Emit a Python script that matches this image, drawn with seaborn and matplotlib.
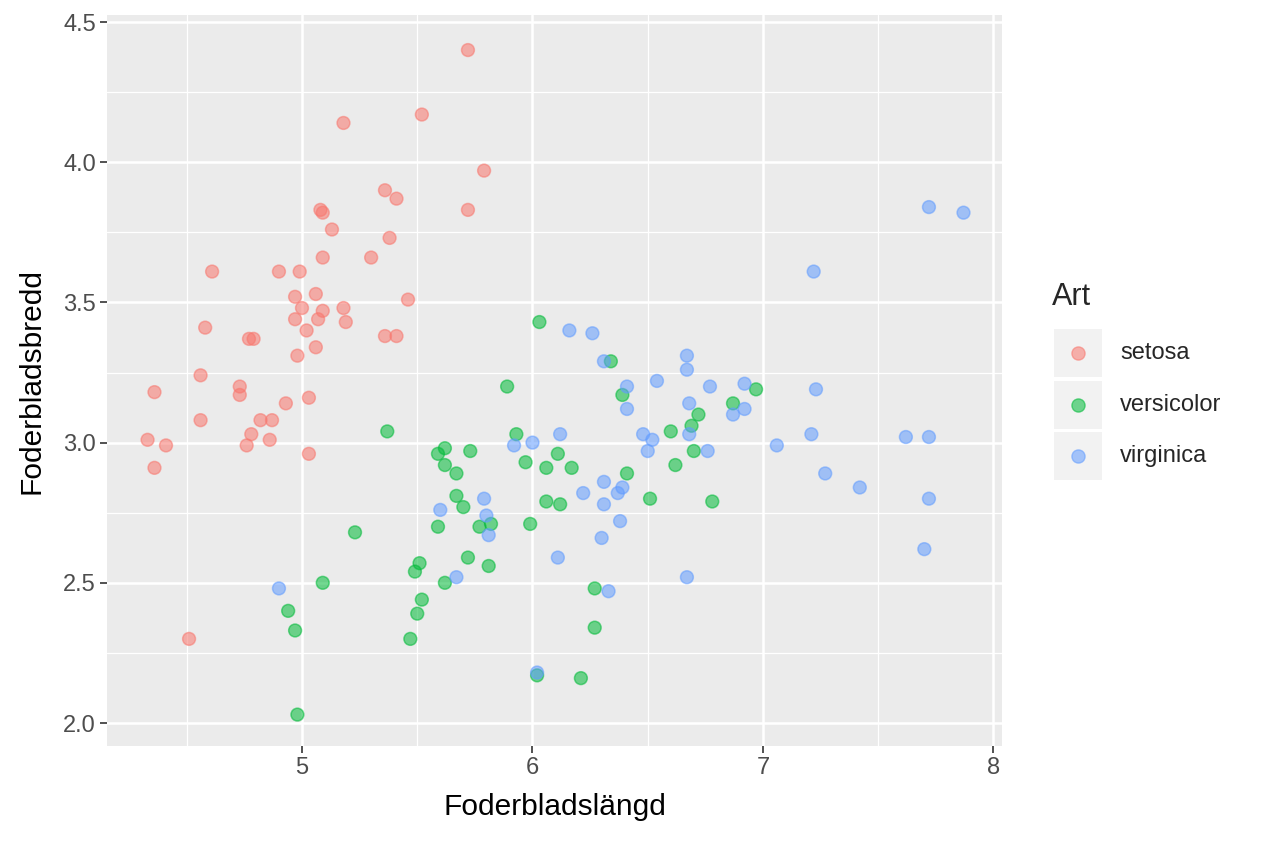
import pandas as pd
import matplotlib
matplotlib.use("Agg")
import matplotlib.pyplot as plt
from matplotlib.patches import Rectangle
from matplotlib.lines import Line2D
from matplotlib.ticker import MultipleLocator
import seaborn as sns

# arter och färger (ggplot-standard)
species = ["setosa", "versicolor", "virginica"]
colors = ["#F8766D", "#00BA38", "#619CFF"]

# avlästa (jittrade) värden
setosa_len = [5.72, 5.52, 5.18, 5.79, 5.36, 5.41, 5.08, 5.09, 5.72, 5.13,
              5.38, 5.09, 5.30, 4.61, 4.90, 4.99, 5.06, 5.46, 4.97, 5.00,
              5.18, 5.09, 4.97, 5.07, 5.19, 4.58, 5.02, 4.77, 4.79, 5.36,
              5.41, 5.06, 4.98, 4.56, 4.36, 4.73, 4.73, 4.93, 5.03, 4.56,
              4.82, 4.87, 4.78, 4.33, 4.86, 4.41, 4.76, 4.36, 5.03, 4.51]
setosa_wid = [4.40, 4.17, 4.14, 3.97, 3.90, 3.87, 3.83, 3.82, 3.83, 3.76,
              3.73, 3.66, 3.66, 3.61, 3.61, 3.61, 3.53, 3.51, 3.52, 3.48,
              3.48, 3.47, 3.44, 3.44, 3.43, 3.41, 3.40, 3.37, 3.37, 3.38,
              3.38, 3.34, 3.31, 3.24, 3.18, 3.20, 3.17, 3.14, 3.16, 3.08,
              3.08, 3.08, 3.03, 3.01, 3.01, 2.99, 2.99, 2.91, 2.96, 2.30]

versicolor_len = [6.03, 5.89, 6.34, 6.39, 6.87, 6.97, 6.72, 6.69, 6.60, 5.37,
                  5.93, 5.62, 5.59, 5.73, 5.62, 5.67, 5.97, 6.11, 6.06, 6.17,
                  6.41, 6.62, 6.70, 5.67, 6.06, 6.12, 6.51, 6.78, 5.70, 5.59,
                  5.77, 5.82, 5.99, 5.23, 5.72, 5.81, 5.62, 5.09, 5.51, 5.49,
                  6.27, 5.52, 5.50, 4.94, 5.47, 4.97, 6.27, 6.02, 6.21, 4.98]
versicolor_wid = [3.43, 3.20, 3.29, 3.17, 3.14, 3.19, 3.10, 3.06, 3.04, 3.04,
                  3.03, 2.98, 2.96, 2.97, 2.92, 2.89, 2.93, 2.96, 2.91, 2.91,
                  2.89, 2.92, 2.97, 2.81, 2.79, 2.78, 2.80, 2.79, 2.77, 2.70,
                  2.70, 2.71, 2.71, 2.68, 2.59, 2.56, 2.50, 2.50, 2.57, 2.54,
                  2.48, 2.44, 2.39, 2.40, 2.30, 2.33, 2.34, 2.17, 2.16, 2.03]

virginica_len = [7.72, 7.87, 7.22, 6.16, 6.26, 6.31, 6.67, 6.67, 6.54, 6.41,
                 6.77, 6.92, 7.23, 6.41, 6.68, 6.92, 6.87, 6.12, 6.00, 5.92,
                 6.48, 6.52, 6.50, 6.68, 6.76, 7.21, 7.06, 7.62, 7.72, 6.31,
                 6.22, 6.37, 6.39, 5.79, 6.31, 5.60, 7.27, 7.42, 7.72, 5.80,
                 5.81, 6.38, 6.30, 6.11, 6.67, 5.67, 6.33, 7.70, 4.90, 6.02]
virginica_wid = [3.84, 3.82, 3.61, 3.40, 3.39, 3.29, 3.31, 3.26, 3.22, 3.20,
                 3.20, 3.21, 3.19, 3.12, 3.14, 3.12, 3.10, 3.03, 3.00, 2.99,
                 3.03, 3.01, 2.97, 3.03, 2.97, 3.03, 2.99, 3.02, 3.02, 2.86,
                 2.82, 2.82, 2.84, 2.80, 2.78, 2.76, 2.89, 2.84, 2.80, 2.74,
                 2.67, 2.72, 2.66, 2.59, 2.52, 2.52, 2.47, 2.62, 2.48, 2.18]

df = pd.DataFrame({
    "Foderbladslängd": setosa_len + versicolor_len + virginica_len,
    "Foderbladsbredd": setosa_wid + versicolor_wid + virginica_wid,
    "Art": [species[0]] * len(setosa_len) + [species[1]] * len(versicolor_len)
           + [species[2]] * len(virginica_len),
})

sns.set_style("darkgrid")
plt.rcParams['font.family'] = ['Liberation Sans', 'DejaVu Sans']

W, H = 1264, 843
fig = plt.figure(figsize=(W / 100, H / 100), dpi=100)
ax = fig.add_axes([107 / W, 1 - 746 / H, (1002 - 107) / W, (746 - 15) / H])

ax.set_facecolor("#EBEBEB")
for s in ax.spines.values():
    s.set_visible(False)

sns.scatterplot(data=df, x="Foderbladslängd", y="Foderbladsbredd", hue="Art",
                hue_order=species, palette=colors, alpha=0.55, s=85,
                edgecolor="face", linewidth=1.1, legend=False, ax=ax, zorder=3)

ax.set_xlim(4.154, 8.037)
ax.set_ylim(1.918, 4.525)
ax.xaxis.set_minor_locator(MultipleLocator(0.5))
ax.yaxis.set_minor_locator(MultipleLocator(0.25))
ax.set_yticks([2.0, 2.5, 3.0, 3.5, 4.0, 4.5])
ax.set_yticklabels(["2.0", "2.5", "3.0", "3.5", "4.0", "4.5"])
ax.set_xticks([5, 6, 7, 8])
ax.set_xticklabels(["5", "6", "7", "8"])

ax.grid(which="major", color="white", linewidth=1.8)
ax.grid(which="minor", color="white", linewidth=0.9)
ax.set_axisbelow(True)
ax.tick_params(which="major", direction="out", length=5, width=1.2,
               bottom=True, left=True, color="#333333", labelsize=17,
               labelcolor="#4D4D4D", pad=3)
ax.tick_params(which="minor", length=0, bottom=False, left=False)

ax.set_xlabel("Foderbladslängd", fontsize=21.5, color="black", labelpad=10)
ax.set_ylabel("Foderbladsbredd", fontsize=21.5, color="black", labelpad=13)

# legend, ggplot-stil
fig.text(1052 / W, 1 - 297 / H, "Art", fontsize=22, va="center", ha="left")
key_tops = [329, 381, 432]
for name, col, top in zip(species, colors, key_tops):
    fig.add_artist(Rectangle((1054 / W, 1 - (top + 48) / H), 48 / W, 48 / H,
                             transform=fig.transFigure, facecolor="#F2F2F2",
                             edgecolor="none"))
    cy = 1 - (top + 24) / H
    fig.add_artist(Line2D([1078 / W], [cy], transform=fig.transFigure,
                          marker="o", markersize=9.5, color=col, alpha=0.55,
                          markeredgewidth=1.0, linestyle="none"))
    fig.text(1120 / W, cy, name, fontsize=17, va="center", ha="left")

fig.savefig("out.png", dpi=100)
